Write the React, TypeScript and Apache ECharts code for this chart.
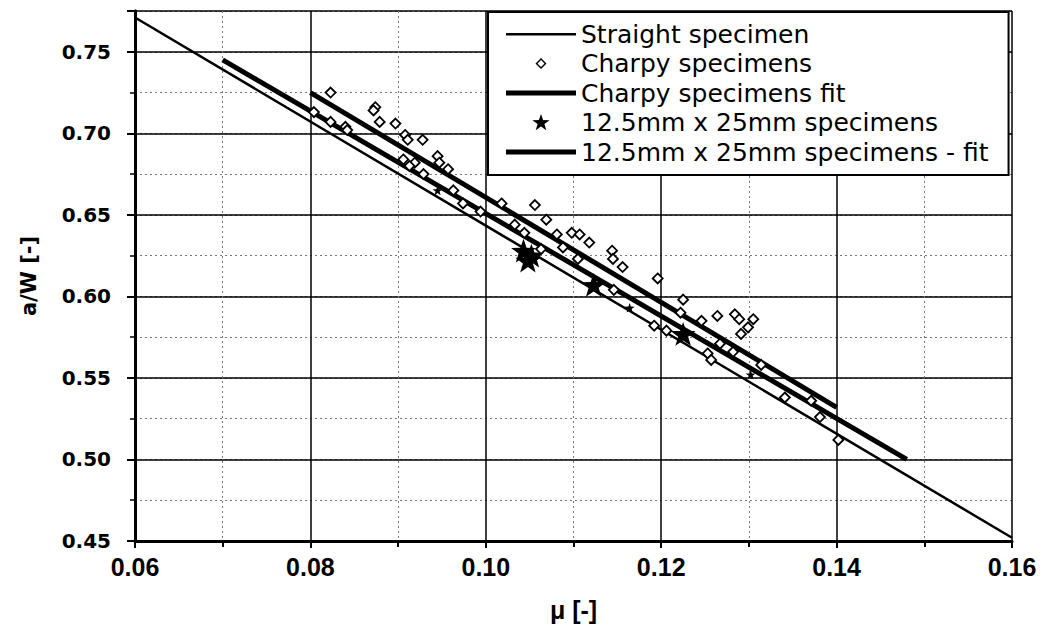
import { useEffect, useRef } from "react";
import * as echarts from "echarts";

// Lines (two end points each)
const straightSpecimen: number[][] = [
  [0.06, 0.771],
  [0.16, 0.452],
];
const charpyFit: number[][] = [
  [0.08, 0.725],
  [0.14, 0.532],
];
const specimens125Fit: number[][] = [
  [0.07, 0.745],
  [0.148, 0.5],
];

// Charpy specimens (mu, a/W)
const charpySpecimens: number[][] = [
  [0.0823, 0.725], [0.0804, 0.713], [0.0874, 0.716], [0.0872, 0.714],
  [0.0879, 0.707], [0.0897, 0.706], [0.0823, 0.707], [0.084, 0.704],
  [0.0842, 0.702], [0.0908, 0.699], [0.0911, 0.696], [0.0928, 0.696],
  [0.0906, 0.684], [0.0919, 0.682], [0.0913, 0.68], [0.0945, 0.686],
  [0.0947, 0.682], [0.0957, 0.678], [0.0929, 0.675], [0.0963, 0.665],
  [0.0974, 0.657], [0.0994, 0.652], [0.1018, 0.657], [0.1056, 0.656],
  [0.1069, 0.647], [0.1033, 0.644], [0.1044, 0.639], [0.1081, 0.638],
  [0.1098, 0.639], [0.1107, 0.638], [0.1118, 0.633], [0.1063, 0.629],
  [0.1088, 0.63], [0.1105, 0.623], [0.1144, 0.628], [0.1145, 0.623],
  [0.1156, 0.618], [0.1196, 0.611], [0.1146, 0.604], [0.1192, 0.582],
  [0.1206, 0.579], [0.1225, 0.598], [0.1222, 0.59], [0.1246, 0.585],
  [0.1264, 0.588], [0.1284, 0.589], [0.1289, 0.586], [0.1305, 0.586],
  [0.1299, 0.581], [0.1291, 0.577], [0.1267, 0.571], [0.1282, 0.566],
  [0.1253, 0.565], [0.1257, 0.561], [0.1314, 0.558], [0.1341, 0.538],
  [0.1371, 0.536], [0.1381, 0.526], [0.1402, 0.512],
];

// 12.5mm x 25mm specimens
const specimens125: number[][] = [
  [0.1043, 0.628], [0.1052, 0.625], [0.1048, 0.622],
  [0.1123, 0.607], [0.1225, 0.577],
];
const specimens125Small: number[][] = [
  [0.0945, 0.665], [0.1164, 0.593], [0.1302, 0.552],
];

const NAMES = [
  "Straight specimen",
  "Charpy specimens",
  "Charpy specimens fit",
  "12.5mm x 25mm specimens",
  "12.5mm x 25mm specimens - fit",
];

const STAR =
  "path://M0,-10L2.35,-3.24L9.51,-3.09L3.8,1.24L5.88,8.09L0,4L-5.88,8.09L-3.8,1.24L-9.51,-3.09L-2.35,-3.24Z";

// Legend icons, all with a 70x18 bounding box
const ICON_THIN = "path://M0,0M70,18M0,8H70V10.5H0Z";
const ICON_THICK = "path://M0,0M70,18M0,6.5H70V11.5H0Z";
const ICON_DIAMOND =
  "path://M0,0M70,18M35,3.5L40.5,9L35,14.5L29.5,9ZM35,5.5L31.5,9L35,12.5L38.5,9Z";
const ICON_STAR =
  "path://M0,0M70,18M35,0.5L37.1,6.6L43.6,6.7L38.4,10.6L40.3,16.8L35,13.1L29.7,16.8L31.6,10.6L26.4,6.7L32.9,6.6Z";

const FONT_NARROW = "Liberation Sans Narrow, Arial Narrow, sans-serif";
const FONT_WIDE = "DejaVu Sans, Arial, sans-serif";

export default function App() {
  const ref = useRef<HTMLDivElement>(null);
  useEffect(() => {
    if (!ref.current) return;
    const chart = echarts.init(ref.current, null, { renderer: "svg" });
    chart.setOption({
      animation: false,
      backgroundColor: "#fff",
      grid: { left: 135, right: 33, top: 11, bottom: 86 },
      legend: {
        data: [
          { name: NAMES[0], icon: ICON_THIN, itemStyle: { color: "#000", borderWidth: 0 } },
          { name: NAMES[1], icon: ICON_DIAMOND, itemStyle: { color: "#000", borderWidth: 0 } },
          { name: NAMES[2], icon: ICON_THICK, itemStyle: { color: "#000", borderWidth: 0 } },
          { name: NAMES[3], icon: ICON_STAR, itemStyle: { color: "#000", borderWidth: 0 } },
          { name: NAMES[4], icon: ICON_THICK, itemStyle: { color: "#000", borderWidth: 0 } },
        ],
        orient: "vertical",
        left: 488,
        top: 12,
        itemWidth: 70,
        itemHeight: 18,
        itemGap: 3.5,
        padding: [9, 20, 10, 18],
        backgroundColor: "#fff",
        borderColor: "#000",
        borderWidth: 2,
        borderRadius: 0,
        textStyle: {
          fontFamily: FONT_WIDE,
          fontSize: 25,
          lineHeight: 26,
          color: "#000",
        },
      },
      xAxis: {
        type: "value",
        min: 0.06,
        max: 0.16,
        interval: 0.02,
        name: "μ [-]",
        nameLocation: "middle",
        nameGap: 56,
        nameTextStyle: {
          fontFamily: FONT_NARROW,
          fontWeight: "bold",
          fontSize: 25,
          color: "#000",
        },
        axisLine: { show: true, onZero: false, lineStyle: { color: "#000", width: 3 } },
        axisTick: { show: true, length: 7, lineStyle: { color: "#000", width: 2 } },
        minorTick: { show: true, splitNumber: 2, length: 6, lineStyle: { color: "#000", width: 2 } },
        splitLine: { show: true, lineStyle: { color: "#000", width: 1.5 } },
        minorSplitLine: { show: true, lineStyle: { color: "#777", width: 1, type: [2, 3] } },
        axisLabel: {
          margin: 13,
          formatter: (v: number) => v.toFixed(2),
          fontFamily: FONT_NARROW,
          fontWeight: "bold",
          fontSize: 25,
          color: "#000",
        },
      },
      yAxis: [
        {
          // minor grid (every 0.025): dotted lines and short ticks
          type: "value",
          min: 0.45,
          max: 0.775,
          interval: 0.025,
          position: "left",
          axisLine: { show: true, onZero: false, lineStyle: { color: "#000", width: 3 } },
          axisTick: { show: true, length: 5, lineStyle: { color: "#000", width: 1.5 } },
          splitLine: { show: true, lineStyle: { color: "#777", width: 1, type: [2, 3] } },
          axisLabel: { show: false },
        },
        {
          // major grid (every 0.05): solid lines, labels and name
          type: "value",
          min: 0.45,
          max: 0.775,
          interval: 0.05,
          position: "left",
          name: "a/W [-]",
          nameLocation: "middle",
          nameGap: 96,
          nameTextStyle: {
            fontFamily: FONT_WIDE,
            fontWeight: "bold",
            fontSize: 21,
            color: "#000",
          },
          axisLine: { show: true, onZero: false, lineStyle: { color: "#000", width: 3 } },
          axisTick: { show: true, length: 8, lineStyle: { color: "#000", width: 2 } },
          splitLine: { show: true, lineStyle: { color: "#000", width: 1.5 } },
          axisLabel: {
            margin: 24,
            formatter: (v: number) => (v > 0.76 ? "" : v.toFixed(2)),
            fontFamily: FONT_WIDE,
            fontWeight: "bold",
            fontSize: 20,
            color: "#000",
          },
        },
      ],
      series: [
        {
          name: NAMES[0],
          type: "line",
          data: straightSpecimen,
          showSymbol: false,
          symbol: "none",
          itemStyle: { color: "#000" },
          lineStyle: { color: "#000", width: 2.5 },
          z: 3,
        },
        {
          name: NAMES[2],
          type: "line",
          data: charpyFit,
          showSymbol: false,
          symbol: "none",
          itemStyle: { color: "#000" },
          lineStyle: { color: "#000", width: 5 },
          z: 3,
        },
        {
          name: NAMES[4],
          type: "line",
          data: specimens125Fit,
          showSymbol: false,
          symbol: "none",
          itemStyle: { color: "#000" },
          lineStyle: { color: "#000", width: 5 },
          z: 3,
        },
        {
          name: NAMES[1],
          type: "scatter",
          data: charpySpecimens,
          symbol: "diamond",
          symbolKeepAspect: true,
          symbolSize: 10,
          itemStyle: { color: "#fff", borderColor: "#000", borderWidth: 1.8, opacity: 1 },
          z: 4,
        },
        {
          name: NAMES[3],
          type: "scatter",
          data: specimens125,
          symbol: STAR,
          symbolKeepAspect: true,
          symbolSize: 25,
          itemStyle: { color: "#000", opacity: 1 },
          z: 5,
        },
        {
          name: NAMES[3],
          type: "scatter",
          data: specimens125Small,
          symbol: STAR,
          symbolKeepAspect: true,
          symbolSize: 10,
          itemStyle: { color: "#000", opacity: 1 },
          z: 5,
        },
      ],
    });
    return () => chart.dispose();
  }, []);
  return (
    <div
      ref={ref}
      style={{ position: "fixed", left: 0, top: 0, width: 1045, height: 627 }}
    />
  );
}
